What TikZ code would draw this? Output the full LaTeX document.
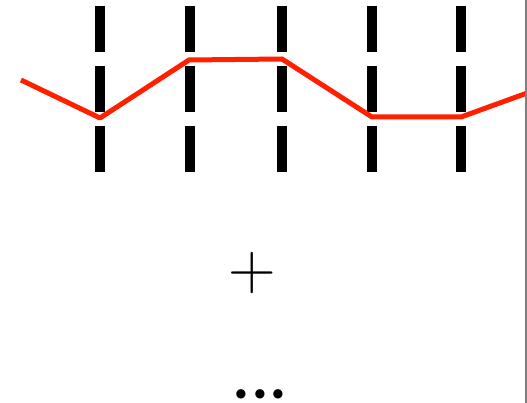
\documentclass[tikz,border=0pt]{standalone}
\usepackage{fontspec}
\usepackage{tikz}
\usetikzlibrary{positioning, calc}
\newfontfamily\dotsfont{Poppins}

\begin{document}
\begin{tikzpicture}[
        x=1pt, y=-1pt,
        cut/.style={line width=10pt, dash pattern=on 46pt off 14pt},
        path/.style={line width=5pt, color=red!75!orange, line join=round},
        frame/.style={gray, line width=1.2pt}
    ]
        \useasboundingbox (0,0) rectangle (527,403);
        % vertical cuts
        \foreach \x/\n in {100/c1, 190/c2, 282/c3, 372/c4, 461/c5} {
            \coordinate (\n t) at (\x,6);
            \coordinate (\n b) at (\x,172);
            \draw[cut] (\n t) -- (\n b);
        }
        % the red path
        \coordinate (p0) at (21,80);
        \coordinate (p1) at (100,118);
        \coordinate (p2) at (189,60);
        \coordinate (p3) at (282,59);
        \coordinate (p4) at (372,117);
        \coordinate (p5) at (461,117);
        \coordinate (p6) at (530,92);
        \begin{scope}
            \clip (0,0) rectangle (525.5,403);
            \draw[path] (p0)--(p1)--(p2)--(p3)--(p4)--(p5)--(p6);
        \end{scope}
        \draw[frame] (526,0) -- (526,403);
        \node[font=\fontsize{66}{66}\selectfont, inner sep=0pt] (plus) at (252.5,273) {+};
        \node[font=\dotsfont\fontsize{75}{75}\selectfont, inner sep=0pt, anchor=base] (dots) at (260,398.5) {.\kern3pt.\kern3pt.};
    \end{tikzpicture}
\end{document}
